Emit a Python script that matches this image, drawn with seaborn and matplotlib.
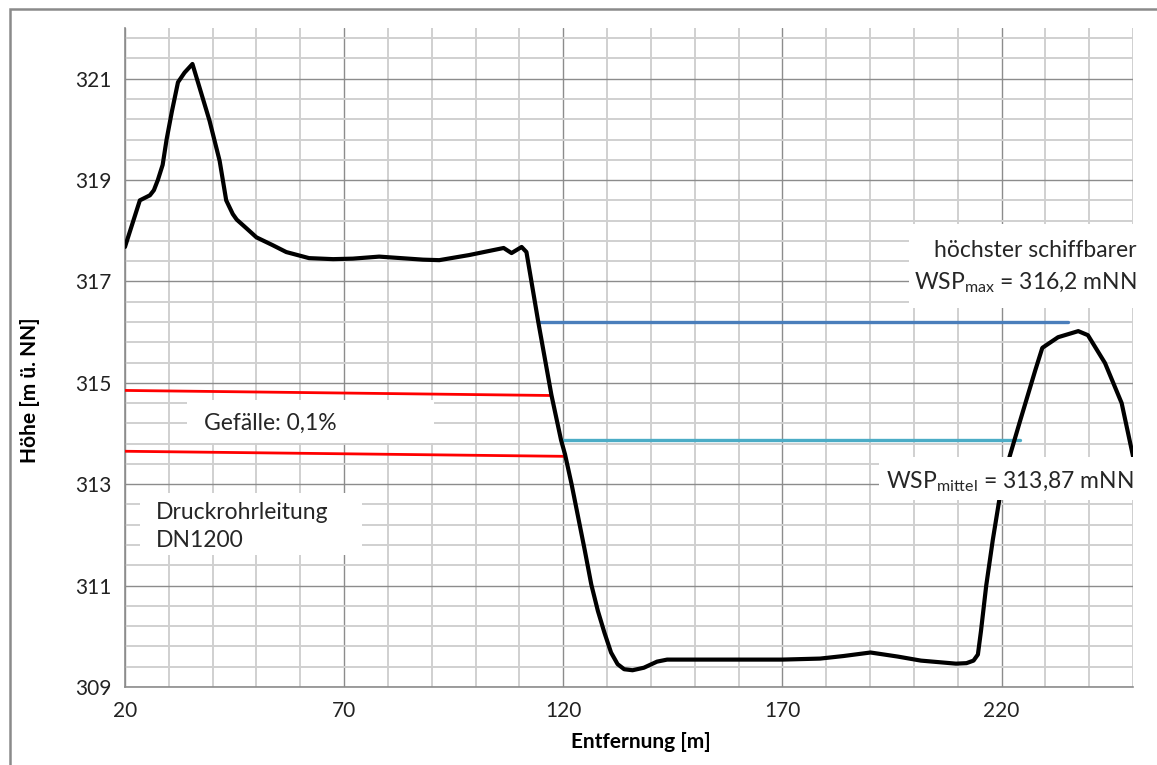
import numpy as np
import pandas as pd
import matplotlib
matplotlib.use('Agg')
import matplotlib.pyplot as plt
from matplotlib.patches import Rectangle
import seaborn as sns

# terrain profile
dist = [20.0, 23.4, 25.7, 26.6, 27.5, 28.6, 29.5, 30.7, 32.1, 33.6, 35.4, 37.0,
        39.3, 41.6, 43.1, 44.6, 45.5, 47.7, 50.0, 53.6, 56.8, 62.0, 67.5, 72.0,
        78.0, 83.0, 88.0, 91.7, 98.5, 103.0, 106.4, 108.2, 110.5, 111.6, 114.3,
        117.3, 119.5, 120.4, 121.9, 123.4, 124.9, 126.4, 127.9, 129.4, 130.9,
        132.4, 133.9, 135.8, 138.4, 141.4, 143.7, 152.0, 170.0, 178.6, 183.9,
        190.1, 196.3, 201.6, 209.6, 212.0, 213.6, 214.6, 215.3, 216.5, 218.0,
        219.5, 221.0, 224.3, 227.7, 229.3, 232.9, 237.5, 239.7, 243.6, 247.4, 250.0]
hoehe = [317.68, 318.6, 318.7, 318.8, 319.0, 319.3, 319.8, 320.35, 320.93, 321.12,
         321.29, 320.83, 320.17, 319.38, 318.6, 318.33, 318.22, 318.05, 317.87,
         317.72, 317.58, 317.46, 317.44, 317.45, 317.49, 317.46, 317.43, 317.42,
         317.52, 317.6, 317.66, 317.56, 317.68, 317.58, 316.2, 314.76, 313.87,
         313.59, 313.0, 312.35, 311.7, 311.02, 310.5, 310.07, 309.68, 309.45,
         309.35, 309.33, 309.38, 309.5, 309.54, 309.54, 309.54, 309.56, 309.61,
         309.68, 309.6, 309.52, 309.46, 309.47, 309.52, 309.64, 310.1, 311.0,
         311.9, 312.7, 313.3, 314.27, 315.25, 315.69, 315.9, 316.02, 315.94,
         315.39, 314.6, 313.55]

# water levels
wsp_max_x = [114.5, 235.2]
wsp_max_y = [316.2, 316.2]
wsp_mit_x = [119.7, 224.3]
wsp_mit_y = [313.87, 313.87]

# pressure pipe (0.1% slope)
rohr_oben_x = [20.0, 117.3]
rohr_oben_y = [314.85, 314.75]
rohr_unten_x = [20.0, 120.4]
rohr_unten_y = [313.65, 313.55]

x_major = [20, 70, 120, 170, 220]
y_major = [309, 311, 313, 315, 317, 319, 321]

sns.set_style("white")
plt.rcParams['font.family'] = ['Lato', 'DejaVu Sans']
plt.rcParams['mathtext.fontset'] = 'custom'
plt.rcParams['mathtext.rm'] = 'Lato'

fig = plt.figure(figsize=(11.57, 7.65), dpi=100)
ax = fig.add_axes([0.108, 0.102, 0.9793 - 0.108, 0.9634 - 0.102])

df = pd.DataFrame({"x": dist, "y": hoehe})
sns.lineplot(data=df, x="x", y="y", ax=ax, sort=False, estimator=None,
             color="black", lw=3.0, zorder=4, solid_joinstyle="round",
             solid_capstyle="round")

sns.lineplot(x=wsp_max_x, y=wsp_max_y, ax=ax, color="#4a7ebb", lw=2.4, zorder=3)
sns.lineplot(x=wsp_mit_x, y=wsp_mit_y, ax=ax, color="#4bacc6", lw=2.4, zorder=3)
sns.lineplot(x=rohr_oben_x, y=rohr_oben_y, ax=ax, color="#ff0000", lw=2.0, zorder=3)
sns.lineplot(x=rohr_unten_x, y=rohr_unten_y, ax=ax, color="#ff0000", lw=2.0, zorder=3)

ax.set_xlim(20, 250)
ax.set_ylim(309, 322)
ax.set_xticks(x_major)
ax.set_xticks(np.arange(30, 251, 10), minor=True)
ax.set_yticks(y_major)
ax.set_yticks(np.arange(309.4, 322, 0.4), minor=True)
ax.set_xticklabels([str(v) for v in x_major])
ax.set_yticklabels([str(v) for v in y_major])

ax.grid(which="major", color="#8c8c8c", lw=1.0, zorder=0)
ax.grid(which="minor", color="#d0d0d0", lw=1.4, zorder=0)
ax.set_axisbelow(True)
ax.tick_params(which="major", direction="out", length=6, width=1, color="#8c8c8c",
               labelsize=15, labelcolor="#222222", pad=4)
ax.tick_params(which="minor", length=0)
for s in ["top", "right"]:
    ax.spines[s].set_visible(False)
for s in ["left", "bottom"]:
    ax.spines[s].set_color("#8c8c8c")
    ax.spines[s].set_linewidth(1.2)

ax.set_xlabel("Entfernung [m]", fontsize=15, fontweight="bold", color="black")
ax.set_ylabel("Höhe [m ü. NN]", fontsize=15, fontweight="bold", color="black")
ax.xaxis.set_label_coords(0.512, -0.068)
ax.yaxis.set_label_coords(-0.084, 0.45)

# text boxes (white, they hide grid and lines)
def box(x0, x1, y0, y1):
    ax.add_patch(Rectangle((x0, y0), x1 - x0, y1 - y0, facecolor="white",
                           edgecolor="none", zorder=5, clip_on=False))

fs = 16.5
box(34.1, 90.5, 313.81, 314.66)
ax.text(38.0, 314.2, "Gefälle: 0,1%", fontsize=fs, va="center", ha="left", zorder=6)

box(23.4, 74.1, 311.6, 312.82)
ax.text(27.0, 312.45, "Druckrohrleitung", fontsize=fs, va="center", ha="left", zorder=6)
ax.text(27.0, 311.88, "DN1200", fontsize=fs, va="center", ha="left", zorder=6)

box(198.9, 253.5, 316.47, 318.14)
ax.text(250.9, 317.61, "höchster schiffbarer", fontsize=fs, va="center", ha="right",
        zorder=6, clip_on=False)
ax.text(250.9, 316.98, r"WSP$_\mathrm{max}$ = 316,2 mNN", fontsize=fs, va="center",
        ha="right", zorder=6, clip_on=False)

box(192.0, 253.5, 312.68, 313.53)
ax.text(250.2, 313.05, r"WSP$_\mathrm{mittel}$ = 313,87 mNN", fontsize=fs, va="center",
        ha="right", zorder=6, clip_on=False)

# outer chart border
fig.add_artist(Rectangle((10 / 1157, -0.02), 1.05, (765 - 9) / 765 + 0.02,
                         transform=fig.transFigure, fill=False,
                         edgecolor="#8a8a8a", lw=1.8))

fig.savefig("out.png", dpi=100)
